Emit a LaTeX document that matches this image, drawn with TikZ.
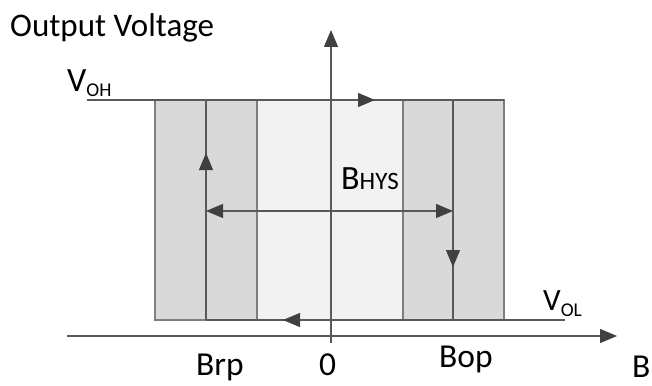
\documentclass[tikz,border=0pt]{standalone}
\usepackage{fontspec}
\setmainfont{Carlito}
\usetikzlibrary{arrows.meta}
\definecolor{darkband}{HTML}{D9D9D9}
\definecolor{lightband}{HTML}{F2F2F2}
\definecolor{lineclr}{HTML}{595959}
\definecolor{edgeclr}{HTML}{7F7F7F}
\definecolor{tipclr}{HTML}{404040}
\begin{document}
\begin{tikzpicture}[x=1pt,y=-1pt,
  band/.style={draw=edgeclr,line width=1.2pt},
  curve/.style={draw=lineclr,line width=1.2pt},
  tipped/.style={curve,-{Triangle[length=17pt,width=14pt,color=tipclr]}},
  bothtipped/.style={curve,{Triangle[length=17pt,width=14pt,color=tipclr]}-{Triangle[length=17pt,width=14pt,color=tipclr]}},
  lbl/.style={inner sep=0pt,anchor=base west,text=black}]
\useasboundingbox (0,0) rectangle (652,385);
% coordinates
\coordinate (L0) at (155,100);
\coordinate (L1) at (257,320);
\coordinate (R0) at (403,100);
\coordinate (R1) at (504,320);
\coordinate (BrpT) at (206,100);
\coordinate (BrpB) at (206,320);
\coordinate (BopT) at (453,100);
\coordinate (BopB) at (453,320);
\coordinate (vohS) at (87,100);
\coordinate (volE) at (565,320);
\coordinate (topTip) at (375,100);
\coordinate (botTip) at (283,320);
\coordinate (upTip) at (206,153);
\coordinate (dnTip) at (453,267);
\coordinate (hysL) at (206,211);
\coordinate (hysR) at (453,211);
\coordinate (xS) at (67,336);
\coordinate (xE) at (617,336);
\coordinate (yS) at (331,343);
\coordinate (yE) at (331,30);
% bands
\fill[lightband] (L1 |- L0) rectangle (R0 |- L1);
\draw[band,fill=darkband] (L0) rectangle (L1);
\draw[band,fill=darkband] (R0) rectangle (R1);
\draw[band] (L1 |- L0) -- (L1);
\draw[band] (R0) -- (R0 |- R1);
% axes
\draw[tipped] (xS) -- (xE);
\draw[tipped] (yS) -- (yE);
% hysteresis loop
\draw[curve] (vohS) -- (BopT);
\draw[curve] (L0) -- (R0 -| R1);
\draw[tipped] (BrpT) -- (topTip);
\draw[curve] (BopT) -- (BopB);
\draw[tipped] (BopT) -- (dnTip);
\draw[curve] (BrpB) -- (volE);
\draw[tipped] (BopB) -- (botTip);
\draw[curve] (BrpB) -- (BrpT);
\draw[tipped] (BrpB) -- (upTip);
% B_HYS
\draw[bothtipped] (hysL) -- (hysR);
% labels
\node[lbl,font=\fontsize{33}{36}\selectfont] (title) at (10,37) {Output Voltage};
\node[lbl,font=\fontsize{34}{36}\selectfont] (voh) at (67,92) {V\raisebox{-5pt}{\fontsize{19.5}{20}\selectfont OH}};
\node[lbl,font=\fontsize{31}{34}\selectfont] (vol) at (543,310) {V\raisebox{-6pt}{\fontsize{19.5}{20}\selectfont OL}};
\node[lbl,font=\fontsize{34}{36}\selectfont] (bhys) at (341,189) {B{\fontsize{25}{26}\selectfont HYS}};
\node[lbl,font=\fontsize{33.5}{36}\selectfont] (brp) at (196,375) {Brp};
\node[lbl,font=\fontsize{33.5}{36}\selectfont] (zero) at (319,375) {0};
\node[lbl,font=\fontsize{33.5}{36}\selectfont] (bop) at (439,367) {Bop};
\node[lbl,font=\fontsize{33.5}{36}\selectfont] (baxis) at (632,377) {B};
\end{tikzpicture}
\end{document}
